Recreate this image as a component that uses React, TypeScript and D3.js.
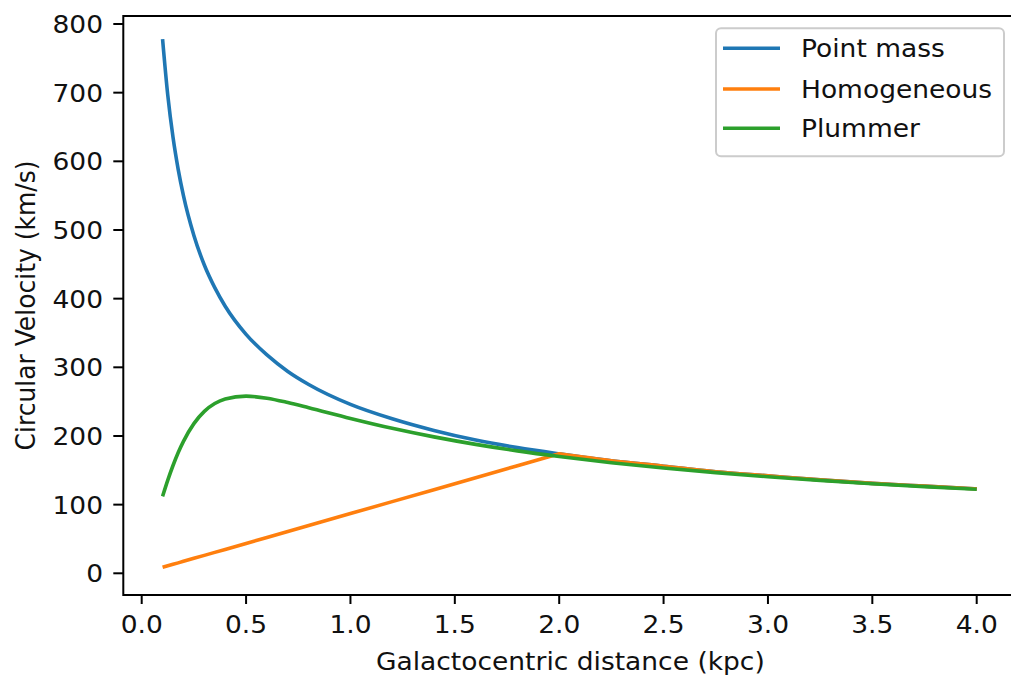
import React from "react";
import * as d3 from "d3";

const xs = [0.1, 0.125, 0.15, 0.175, 0.2, 0.25, 0.3, 0.35, 0.4, 0.5, 0.6, 0.7, 0.8, 1.0, 1.2, 1.4, 1.6, 1.8, 2.0, 2.25, 2.5, 2.75, 3.0, 3.25, 3.5, 3.75, 4.0];
const pointMass = [778, 696, 635, 588, 550, 492, 449, 416, 389, 348, 318, 294, 275, 246, 225, 208, 194, 183, 174, 164, 156, 148, 142, 136, 131, 127, 123];
const homogeneous = [8.7, 10.9, 13.1, 15.2, 17.4, 21.8, 26.1, 30.5, 34.8, 43.5, 52.2, 60.9, 69.6, 87, 104.4, 121.8, 139.2, 156.6, 174, 164, 156, 148, 142, 136, 131, 127, 123];
const plummer = [112, 135.7, 157, 175.9, 192.2, 218, 235.8, 247.2, 253.9, 258, 255, 248.7, 241.2, 225.6, 211.2, 198.7, 187.8, 178.3, 170.1, 161.1, 153.3, 146.6, 140.6, 135.3, 130.5, 126.2, 122.3];

const seriesNames = ["Point mass", "Homogeneous", "Plummer"];
const seriesColors = ["#1f77b4", "#ff7f0e", "#2ca02c"];
const xTicks = [0.0, 0.5, 1.0, 1.5, 2.0, 2.5, 3.0, 3.5, 4.0];
const yTicks = [0, 100, 200, 300, 400, 500, 600, 700, 800];
const homogeneousBreak = 2.0;

const FONT = "'DejaVu Sans', sans-serif";
const FS = 25;
const SX = 1.06;

export default function App() {
  const W = 1011, H = 681;
  const left = 123.3, top = 16, bottom = 595;
  const x = d3.scaleLinear().domain([0, 4]).range([141.7, 976.7]);
  const y = d3.scaleLinear().domain([0, 800]).range([573.3, 24]);
  const right = x(4.195);
  const curved = d3.line<[number, number]>().curve(d3.curveMonotoneX);
  const straight = d3.line<[number, number]>().curve(d3.curveLinear);

  const pts = (vals: number[]) => vals.map((v, i) => [x(xs[i]), y(v)] as [number, number]);
  const hPts = pts(homogeneous);
  const hInner = hPts.filter((_, i) => xs[i] <= homogeneousBreak);
  const hOuter = hPts.filter((_, i) => xs[i] >= homogeneousBreak);
  const hPath = (straight(hInner) || "") + (curved(hOuter) || "").replace(/^M/, "L");
  const paths = [curved(pts(pointMass)) || "", hPath, curved(pts(plummer)) || ""];

  const legX = 716, legY = 28.3, legW = 288, legH = 128;
  const rowY = [48.3, 89, 128.3];

  const T = (tx: number, ty: number) => `translate(${tx},${ty}) scale(${SX},1)`;

  return (
    <svg width={W} height={H} style={{ position: "absolute", left: 0, top: 0, background: "#fff" }}>
      <rect x={0} y={0} width={W} height={H} fill="#fff" />
      {paths.map((d, i) => (
        <path key={i} d={d} fill="none" stroke={seriesColors[i]} strokeWidth={3.6} strokeLinejoin="round" strokeLinecap="butt" />
      ))}
      <rect x={left} y={top} width={right - left} height={bottom - top} fill="none" stroke="#000" strokeWidth={2} />
      {xTicks.map((t) => (
        <g key={"x" + t}>
          <line x1={x(t)} x2={x(t)} y1={bottom} y2={bottom + 9} stroke="#000" strokeWidth={2} />
          <text transform={T(x(t), 633)} textAnchor="middle" fontFamily={FONT} fontSize={FS} fill="#111">
            {t.toFixed(1)}
          </text>
        </g>
      ))}
      {yTicks.map((t) => (
        <g key={"y" + t}>
          <line x1={left - 10} x2={left} y1={y(t)} y2={y(t)} stroke="#000" strokeWidth={2} />
          <text transform={T(103, y(t))} dy="0.36em" textAnchor="end" fontFamily={FONT} fontSize={FS} fill="#111">
            {t}
          </text>
        </g>
      ))}
      <text transform={T((left + right) / 2, 670)} textAnchor="middle" fontFamily={FONT} fontSize={FS} fill="#111">
        Galactocentric distance (kpc)
      </text>
      <text transform={`translate(35,${(top + bottom) / 2}) rotate(-90) scale(1,${SX})`} textAnchor="middle" fontFamily={FONT} fontSize={FS} fill="#111">
        Circular Velocity (km/s)
      </text>
      <rect x={legX} y={legY} width={legW} height={legH} rx={5} ry={5} fill="#fff" fillOpacity={0.8} stroke="#cccccc" strokeWidth={2} />
      {seriesNames.map((n, i) => (
        <g key={n}>
          <line x1={723} x2={780} y1={rowY[i]} y2={rowY[i]} stroke={seriesColors[i]} strokeWidth={3.6} />
          <text transform={T(801, rowY[i])} dy="0.36em" fontFamily={FONT} fontSize={FS} fill="#111">
            {n}
          </text>
        </g>
      ))}
    </svg>
  );
}
